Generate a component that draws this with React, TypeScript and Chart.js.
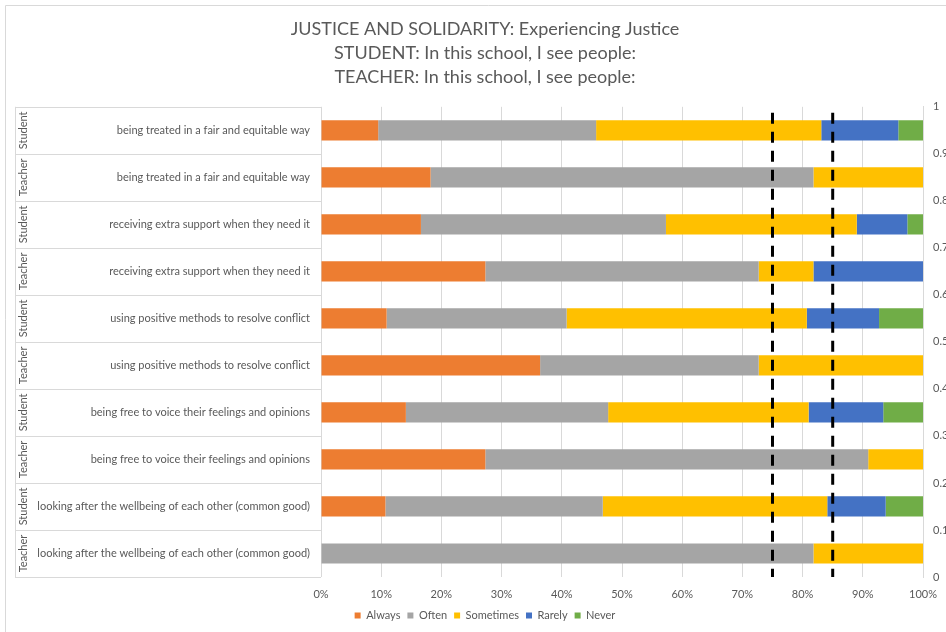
import React, { useEffect, useRef } from "react";
import { Chart, registerables } from "chart.js";

Chart.register(...registerables);

const FONT = "Lato";
const TEXT = "#595959";

const titleLines = [
  "JUSTICE AND SOLIDARITY: Experiencing Justice",
  "STUDENT: In this school, I see people:",
  "TEACHER: In this school, I see people:",
];

const items = [
  "being treated in a fair and equitable way",
  "being treated in a fair and equitable way",
  "receiving extra support when they need it",
  "receiving extra support when they need it",
  "using positive methods to resolve conflict",
  "using positive methods to resolve conflict",
  "being free to voice their feelings and opinions",
  "being free to voice their feelings and opinions",
  "looking after the wellbeing of each other (common good)",
  "looking after the wellbeing of each other (common good)",
];

const groups = [
  "Student", "Teacher", "Student", "Teacher", "Student",
  "Teacher", "Student", "Teacher", "Student", "Teacher",
];

const seriesNames = ["Always", "Often", "Sometimes", "Rarely", "Never"];
const seriesColors = ["#ED7D31", "#A5A5A5", "#FFC000", "#4472C4", "#70AD47"];

const always = [9.5, 18.2, 16.6, 27.3, 10.9, 36.4, 14.1, 27.3, 10.7, 0];
const often = [36.2, 63.6, 40.7, 45.4, 29.9, 36.3, 33.6, 63.6, 36.1, 81.8];
const sometimes = [37.4, 18.2, 31.7, 9.1, 39.9, 27.3, 33.3, 9.1, 37.3, 18.2];
const rarely = [12.8, 0, 8.4, 18.2, 12.0, 0, 12.4, 0, 9.7, 0];
const never = [4.1, 0, 2.6, 0, 7.3, 0, 6.6, 0, 6.2, 0];

const benchmarks = [75, 85];
const benchmarkSpan = [1, 0];
const xTicks = [0, 10, 20, 30, 40, 50, 60, 70, 80, 90, 100];

const tablePlugin = {
  id: "leftTable",
  afterDraw(chart: any) {
    const { ctx, chartArea, scales } = chart;
    const yScale = scales.y;
    const top = chartArea.top;
    const bottom = chartArea.bottom;
    const n = items.length;
    const rowH = (bottom - top) / n;
    ctx.save();
    ctx.strokeStyle = "#d9d9d9";
    ctx.lineWidth = 1;
    ctx.beginPath();
    ctx.moveTo(5.5, chart.height + 10);
    ctx.lineTo(5.5, 5.5);
    ctx.lineTo(chart.width + 10, 5.5);
    ctx.stroke();
    ctx.beginPath();
    for (let k = 0; k <= n; k++) {
      const y = Math.round(top + k * rowH) + 0.5;
      ctx.moveTo(15, y);
      ctx.lineTo(chartArea.left, y);
    }
    ctx.moveTo(15.5, top);
    ctx.lineTo(15.5, bottom);
    ctx.stroke();
    ctx.fillStyle = TEXT;
    ctx.font = `11px ${FONT}`;
    ctx.textBaseline = "middle";
    for (let i = 0; i < n; i++) {
      const y = yScale.getPixelForValue(i);
      ctx.textAlign = "right";
      ctx.fillText(items[i], 310, y);
      ctx.save();
      ctx.translate(23, y);
      ctx.rotate(-Math.PI / 2);
      ctx.textAlign = "center";
      ctx.fillText(groups[i], 0, 0);
      ctx.restore();
    }
    ctx.restore();
  },
};

export default function App() {
  const ref = useRef<HTMLCanvasElement | null>(null);

  useEffect(() => {
    if (!ref.current) return;
    const values = [always, often, sometimes, rarely, never];
    const barSets = seriesNames.map((name, i) => ({
      type: "bar" as const,
      label: name,
      data: values[i],
      backgroundColor: seriesColors[i],
      borderWidth: 0,
      xAxisID: "x",
      yAxisID: "y",
      grouped: false,
      categoryPercentage: 1,
      barPercentage: 0.43,
      order: 1,
    }));
    const lineSets = benchmarks.map((b, i) => ({
      type: "line" as const,
      label: "benchmark" + i,
      data: benchmarkSpan.map((s) => ({ x: b, y: s })),
      borderColor: "#000000",
      borderWidth: 3,
      borderDash: [11, 8],
      borderDashOffset: -6,
      borderCapStyle: "butt" as const,
      pointRadius: 0,
      fill: false,
      xAxisID: "x",
      yAxisID: "y2",
      stack: "bench" + i,
      order: -1,
    }));

    const chart = new Chart(ref.current, {
      type: "bar",
      data: { labels: items, datasets: [...barSets, ...lineSets] as any },
      options: {
        responsive: false,
        animation: false,
        indexAxis: "y",
        layout: { padding: { top: 0, left: 0, right: 0, bottom: 1 } },
        plugins: {
          title: {
            display: true,
            text: titleLines,
            color: TEXT,
            font: { family: FONT, size: 18, weight: "normal", lineHeight: 1.33 },
            padding: { top: 17, bottom: 18 },
          },
          legend: {
            position: "bottom",
            labels: {
              filter: (item: any) => item.datasetIndex < seriesNames.length,
              boxWidth: 6,
              boxHeight: 6,
              color: TEXT,
              font: { family: FONT, size: 11 },
              padding: 7,
            },
          },
          tooltip: { enabled: false },
        },
        scales: {
          x: {
            type: "linear",
            position: "bottom",
            min: 0,
            max: 100,
            stacked: true,
            afterBuildTicks: (s: any) => {
              s.ticks = xTicks.map((v) => ({ value: v }));
            },
            afterFit: (s: any) => {
              s.height = 26;
            },
            ticks: {
              color: TEXT,
              font: { family: FONT, size: 11 },
              padding: 11,
              callback: (v: any) => v + "%",
            },
            grid: { color: "#d9d9d9", drawTicks: false },
            border: { display: false },
          },
          y: {
            type: "category",
            position: "left",
            stacked: true,
            offset: true,
            ticks: { display: false },
            grid: { display: false, drawTicks: false, offset: true },
            border: { display: false },
            afterFit: (s: any) => {
              s.width = 321;
            },
          },
          y2: {
            type: "linear",
            position: "right",
            min: 0,
            max: 1,
            offset: false,
            ticks: {
              stepSize: 0.1,
              color: TEXT,
              font: { family: FONT, size: 11 },
              padding: 10,
              callback: (v: any) => String(Math.round(v * 10) / 10),
            },
            grid: { display: false, drawTicks: false, offset: false },
            border: { display: true, color: "#d9d9d9" },
            afterFit: (s: any) => {
              s.width = 47;
            },
          },
        },
      } as any,
      plugins: [tablePlugin],
    });
    return () => chart.destroy();
  }, []);

  return (
    <div
      style={{
        position: "fixed",
        left: 0,
        top: 0,
        width: 946,
        height: 632,
        overflow: "hidden",
        background: "#ffffff",
      }}
    >
      <canvas ref={ref} width={970} height={632} style={{ width: 970, height: 632, display: "block" }} />
    </div>
  );
}
